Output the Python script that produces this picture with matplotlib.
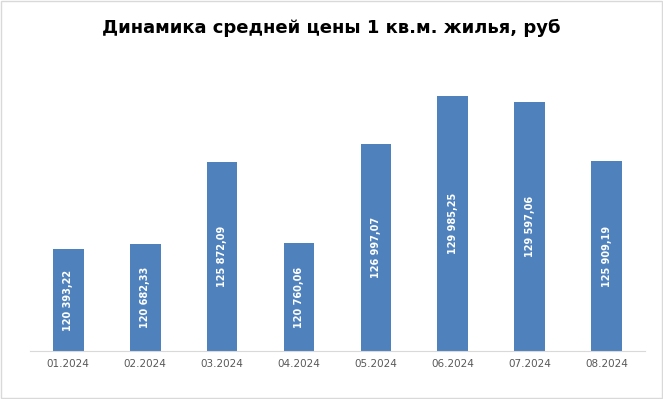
import matplotlib
matplotlib.use("Agg")
import matplotlib.pyplot as plt
from matplotlib.patches import Rectangle

# данные
months = ["01.2024", "02.2024", "03.2024", "04.2024", "05.2024", "06.2024", "07.2024", "08.2024"]
prices = [120393.22, 120682.33, 125872.09, 120760.06, 126997.07, 129985.25, 129597.06, 125909.19]
labels = ["120 393,22", "120 682,33", "125 872,09", "120 760,06", "126 997,07", "129 985,25", "129 597,06", "125 909,19"]

ymin, ymax = 114000, 132000

fig = plt.figure(figsize=(6.63, 3.99), dpi=100)
ax = fig.add_axes([0.045, 0.12, 0.928, 0.72])

x = range(len(months))
bars = ax.bar(x, [p - ymin for p in prices], bottom=ymin, width=0.4, color="#4F81BD")

for b, lab, p in zip(bars, labels, prices):
    ax.text(b.get_x() + b.get_width() / 2, (ymin + p) / 2, lab, rotation=90,
            ha="center", va="center", color="white", fontsize=7, fontweight="bold")

ax.set_xlim(-0.5, len(months) - 0.5)
ax.set_ylim(ymin, ymax)
ax.set_xticks(list(x))
ax.set_xticklabels(months, fontsize=7.5, color="#595959")
ax.tick_params(axis="x", length=0, pad=6)
ax.set_yticks([])
for s in ["top", "right", "left"]:
    ax.spines[s].set_visible(False)
ax.spines["bottom"].set_color("#D9D9D9")

fig.text(0.5, 0.93, "Динамика средней цены 1 кв.м. жилья, руб", ha="center", va="center",
         fontsize=13, fontweight="bold", color="black")

# рамка вокруг рисунка
fig.patches.append(Rectangle((0.002, 0.003), 0.996, 0.994, transform=fig.transFigure,
                             fill=False, edgecolor="#D9D9D9", linewidth=1))

fig.savefig("out.png", dpi=100)
